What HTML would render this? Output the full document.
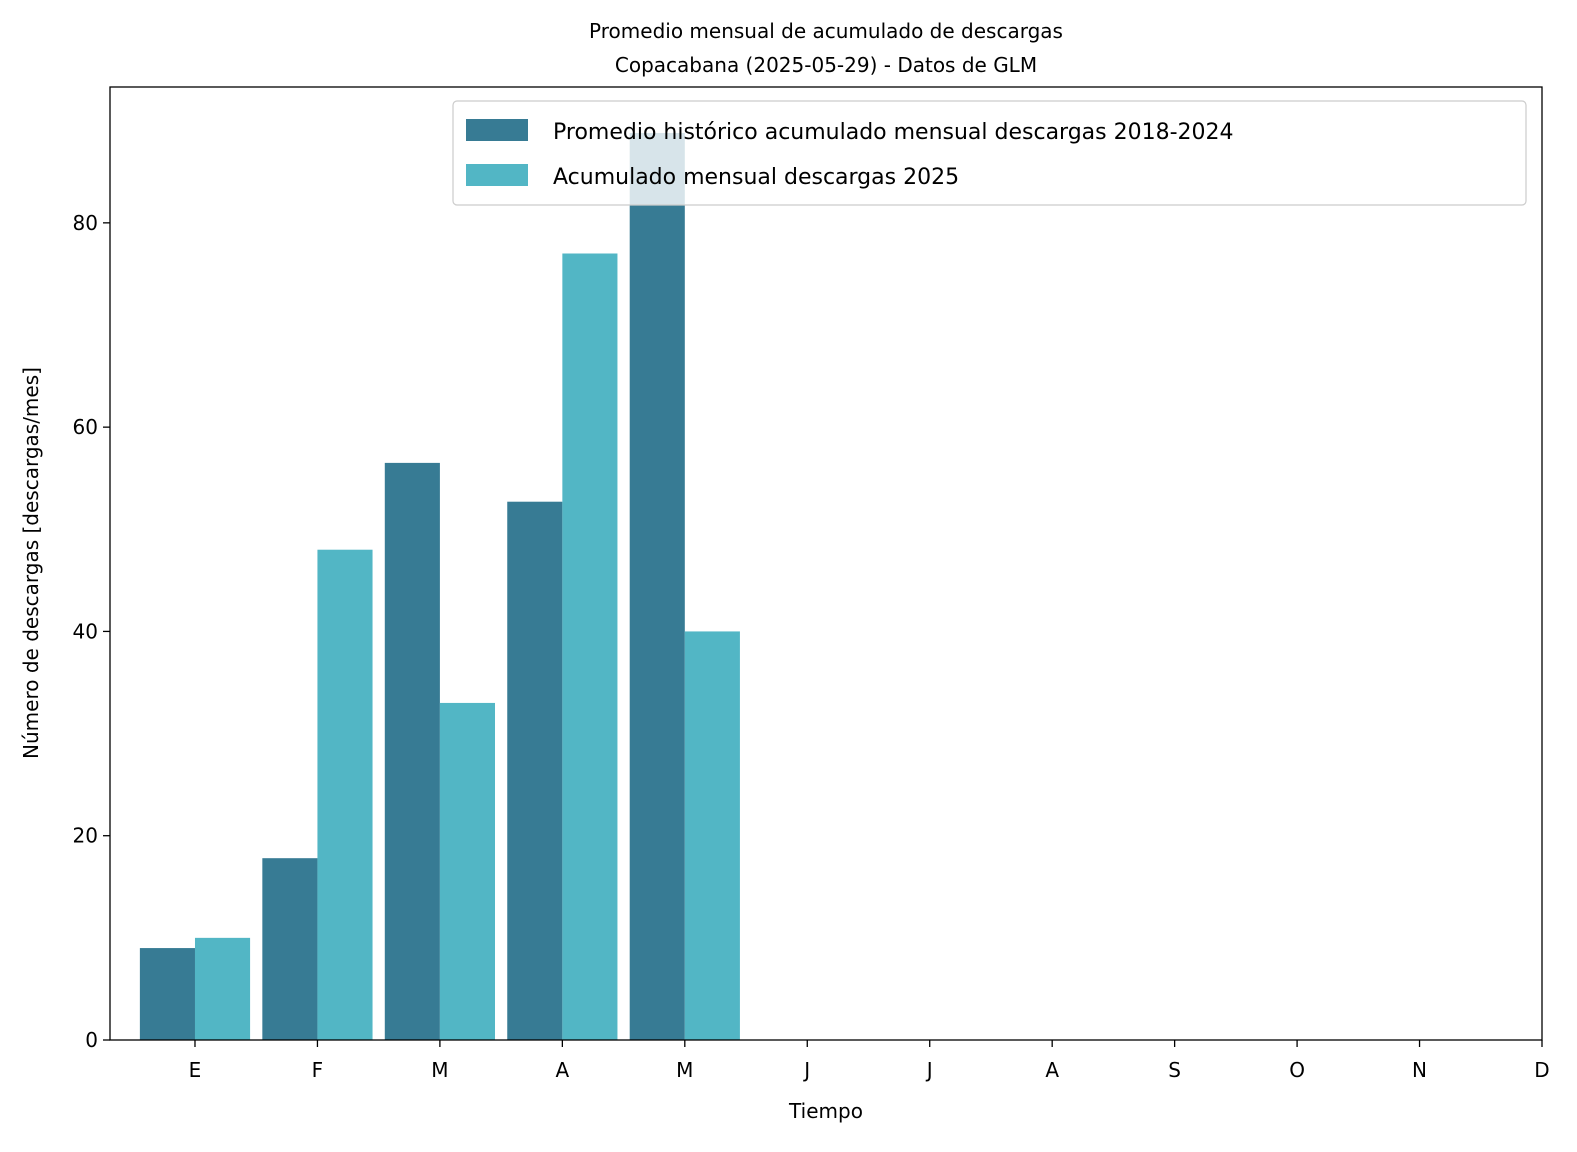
<!DOCTYPE html>
<html><head><meta charset="utf-8"><style>
html,body{margin:0;padding:0;background:#fff;}
svg text{font-family:"DejaVu Sans","Liberation Sans",sans-serif;fill:#000;}
</style></head><body>
<svg id="chart" width="1577" height="1147" viewBox="0 0 1577 1147" xmlns="http://www.w3.org/2000/svg">
<text x="826" y="38" font-size="20" text-anchor="middle">Promedio mensual de acumulado de descargas</text>
<text x="826" y="72" font-size="20" text-anchor="middle">Copacabana (2025-05-29) - Datos de GLM</text>
<g id="bars"></g>
<g id="axes"></g>
<text x="826" y="1118" font-size="20" text-anchor="middle">Tiempo</text>
<text transform="translate(38,563) rotate(-90)" font-size="20" text-anchor="middle">Número de descargas [descargas/mes]</text>
<g>
<rect x="453" y="101" width="1073" height="104" rx="4" fill="#fff" fill-opacity="0.8" stroke="#ccc" stroke-width="1.2"/>
<rect x="466" y="119" width="62" height="22" fill="#377b94"/>
<text x="553" y="139" font-size="22">Promedio histórico acumulado mensual descargas 2018-2024</text>
<rect x="466" y="164" width="62" height="22" fill="#52b6c5"/>
<text x="553" y="184" font-size="22">Acumulado mensual descargas 2025</text>
</g>
</svg>
<script>
const months = ["E","F","M","A","M","J","J","A","S","O","N","D"];
const historico = [9.0, 17.8, 56.5, 52.7, 88.8];
const actual = [10, 48, 33, 77, 40];
const yTicks = [0, 20, 40, 60, 80];

const L=110,R=1542,T=87,B=1040;
const xMin=-0.694,xMax=11,yMin=0,yMax=93.3;
const xs=v=>L+(v-xMin)/(xMax-xMin)*(R-L);
const ys=v=>B-(v-yMin)/(yMax-yMin)*(B-T);
const NS="http://www.w3.org/2000/svg";
const bars=document.getElementById('bars'),axes=document.getElementById('axes');
const w=0.45;
function mk(tag,attrs,parent){const e=document.createElementNS(NS,tag);for(const k in attrs)e.setAttribute(k,attrs[k]);parent.appendChild(e);return e;}
historico.forEach((v,i)=>{
 const r=mk('rect',{x:xs(i-w),y:ys(v),width:xs(i)-xs(i-w),height:ys(0)-ys(v),fill:'#377b94'},bars);
 
 
});
actual.forEach((v,i)=>{
 const r=mk('rect',{x:xs(i),y:ys(v),width:xs(i+w)-xs(i),height:ys(0)-ys(v),fill:'#52b6c5'},bars);
 
 
});
const frame=mk('rect',{x:L,y:T,width:R-L,height:B-T,fill:'none',stroke:'#000','stroke-width':1.3},axes);


months.forEach((m,i)=>{
 const x=xs(i);
 mk('line',{x1:x,x2:x,y1:B,y2:B+7,stroke:'#000','stroke-width':1.3},axes);
 const t=mk('text',{x:x,y:B+37,'font-size':20,'text-anchor':'middle'},axes);
 t.textContent=m;
 
 
});
yTicks.forEach(v=>{
 const y=ys(v);
 mk('line',{x1:L-7,x2:L,y1:y,y2:y,stroke:'#000','stroke-width':1.3},axes);
 const t=mk('text',{x:L-12,y:y+7,'font-size':20,'text-anchor':'end'},axes);
 t.textContent=v;
 
 
});
</script>
</body></html>
